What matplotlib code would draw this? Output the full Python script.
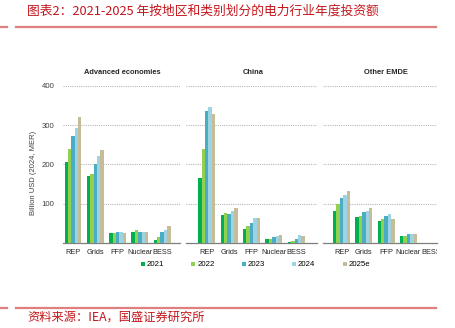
import matplotlib
matplotlib.use("Agg")
import matplotlib.pyplot as plt
from matplotlib.lines import Line2D
import numpy as np

plt.rcParams["font.family"] = ["Liberation Sans", "DejaVu Sans"]

categories = ["REP", "Grids", "FFP", "Nuclear", "BESS"]
years = ["2021", "2022", "2023", "2024", "2025e"]
colors = ["#00b050", "#92d050", "#4bacc6", "#9dd3e3", "#c4bd97"]

# Billion USD (2024, MER), rows = years, cols = categories
advanced = [
    [205, 170, 26, 27, 7],
    [240, 176, 26, 32, 15],
    [273, 200, 28, 29, 27],
    [293, 221, 28, 28, 34],
    [320, 236, 25, 27, 43],
]
china = [
    [166, 70, 36, 9, 3],
    [239, 76, 42, 11, 6],
    [335, 75, 52, 14, 10],
    [345, 82, 63, 18, 20],
    [327, 88, 64, 21, 18],
]
other_emde = [
    [82, 67, 55, 19, 0],
    [99, 68, 60, 19, 0],
    [114, 79, 68, 22, 0],
    [122, 82, 74, 23, 0],
    [132, 88, 60, 23, 0],
]

panels = [
    ("Advanced economies", advanced, [63, 180], (-0.45, 4.8), 0.51),
    ("China", china, [186, 317], (-0.92, 4.92), 0.51),
    ("Other EMDE", other_emde, [323, 437], (-0.83, 4.28), 0.55),
]

W, H = 455, 328
fig = plt.figure(figsize=(W / 100, H / 100), dpi=100)

y_top, y_base = 85.7, 243
bw = 0.152
x = np.arange(len(categories))

axes = []
for i, (name, data, (x0, x1), xlim, tx) in enumerate(panels):
    ax = fig.add_axes([x0 / W, 1 - y_base / H, (x1 - x0) / W, (y_base - y_top) / H])
    axes.append(ax)
    for k, vals in enumerate(data):
        ax.bar(x + (k - 2) * bw, vals, width=bw, color=colors[k], label=years[k],
               linewidth=0, zorder=3)
    ax.set_xlim(*xlim)
    ax.set_ylim(0, 400)
    ax.set_yticks([100, 200, 300, 400])
    ax.yaxis.grid(True, linestyle=(0, (1, 1)), color="#b8b8b8", linewidth=0.8, zorder=0)
    for s in ["top", "right", "left"]:
        ax.spines[s].set_visible(False)
    ax.spines["bottom"].set_color("#7f7f7f")
    ax.spines["bottom"].set_linewidth(0.9)
    ax.set_xticks(x)
    ax.set_xticklabels(categories)
    ax.tick_params(axis="x", length=0, pad=4, labelsize=5.3, colors="#262626")
    ax.tick_params(axis="y", length=0, pad=6, labelsize=5.6, colors="#404040")
    if i > 0:
        ax.set_yticklabels([])
    ax.text(tx, 1 + 13.7 / (y_base - y_top), name, transform=ax.transAxes,
            ha="center", va="center", fontsize=5.4, fontweight="bold", color="#262626")

axes[0].set_ylabel("Billion USD (2024, MER)", fontsize=5.5, color="#404040")
axes[0].yaxis.set_label_coords(-0.222, 0.448)

# clip the last category label at the panel edge
clip = matplotlib.transforms.Bbox([[0, 0], [437, H]])
for lab in axes[2].get_xticklabels():
    lab.set_clip_on(True)
    lab.set_clip_box(clip)

handles = [Line2D([], [], marker="s", linestyle="none", markersize=3.0,
                  color=c, markeredgewidth=0) for c in colors]
fig.legend(handles, years, loc="center left", bbox_to_anchor=(141 / W, 1 - 264.7 / H),
           ncol=5, frameon=False, fontsize=5.6, handlelength=0.5, handletextpad=0.25,
           columnspacing=3.5, borderpad=0, borderaxespad=0)

red = "#c4161c"
line_red = "#e07f7f"
for yy in (27.3, 307.7):
    fig.add_artist(Line2D([0, 7 / W], [1 - yy / H] * 2, color=line_red, linewidth=1.6))
    fig.add_artist(Line2D([16 / W, 436 / W], [1 - yy / H] * 2, color=line_red, linewidth=1.6))

cjk = ["Noto Sans CJK SC", "DejaVu Sans"]
fig.text(27 / W, 1 - 11 / H, "图表2：2021-2025 年按地区和类别划分的电力行业年度投资额",
         fontsize=9.2, color=red, style="italic", family=cjk, va="center", ha="left")
fig.text(27 / W, 1 - 317 / H, "资料来源：IEA，国盛证券研究所",
         fontsize=8.8, color=red, style="italic", family=cjk, va="center", ha="left")

fig.savefig("out.png", dpi=100)
